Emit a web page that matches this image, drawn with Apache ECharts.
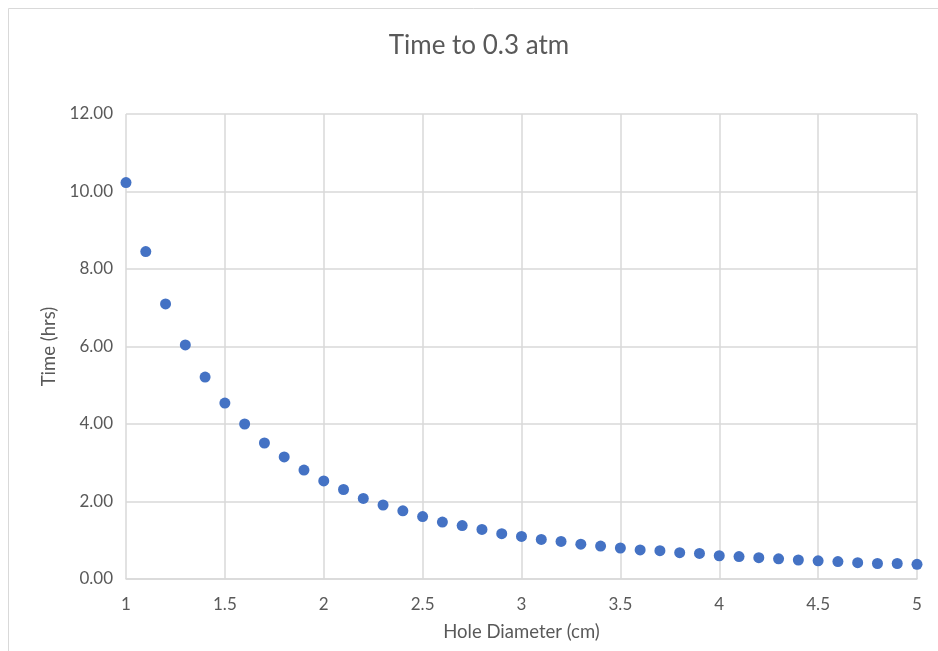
<!DOCTYPE html>
<html>
<head>
<meta charset="utf-8">
<script src="https://cdn.jsdelivr.net/npm/echarts@6/dist/echarts.min.js"></script>
<style>
  html, body { margin: 0; padding: 0; background: #fff; }
  #chart { width: 938px; height: 651px; }
</style>
</head>
<body>
<div id="chart"></div>
<script>
// hole diameter (cm)
const diameters = [
  1.0, 1.1, 1.2, 1.3, 1.4, 1.5, 1.6, 1.7, 1.8, 1.9,
  2.0, 2.1, 2.2, 2.3, 2.4, 2.5, 2.6, 2.7, 2.8, 2.9,
  3.0, 3.1, 3.2, 3.3, 3.4, 3.5, 3.6, 3.7, 3.8, 3.9,
  4.0, 4.1, 4.2, 4.3, 4.4, 4.5, 4.6, 4.7, 4.8, 4.9, 5.0
]
// time to 0.3 atm (hrs)
const hours = [
  10.23, 8.45, 7.10, 6.04, 5.21, 4.54, 4.00, 3.51, 3.15, 2.81,
  2.53, 2.31, 2.08, 1.91, 1.76, 1.61, 1.47, 1.38, 1.28, 1.17,
  1.10, 1.02, 0.97, 0.90, 0.85, 0.80, 0.75, 0.73, 0.68, 0.66,
  0.60, 0.58, 0.55, 0.52, 0.49, 0.47, 0.45, 0.42, 0.40, 0.40, 0.38
]
const xTicks = [1, 1.5, 2, 2.5, 3, 3.5, 4, 4.5, 5]
const yTicks = [0, 2, 4, 6, 8, 10, 12]

const font = 'Lato, "Open Sans", sans-serif'
const textColor = '#595959'
const gridColor = '#d9d9d9'

const chart = echarts.init(document.getElementById('chart'))

chart.setOption({
  backgroundColor: '#fff',
  animation: false,
  graphic: [{
    type: 'rect',
    shape: { x: 8.5, y: 8.5, width: 960, height: 700 },
    style: { fill: 'none', stroke: gridColor, lineWidth: 1 },
    silent: true,
  }],
  title: {
    text: 'Time to 0.3 atm',
    left: 474,
    top: 28,
    textAlign: 'center',
    textStyle: { color: textColor, fontSize: 26, fontWeight: 'normal', fontFamily: font },
  },
  grid: { left: 126, right: 21, top: 114, bottom: 72, containLabel: false },
  xAxis: {
    type: 'value',
    min: xTicks[0],
    max: xTicks[xTicks.length - 1],
    interval: 0.5,
    name: 'Hole Diameter (cm)',
    nameLocation: 'middle',
    nameGap: 44,
    nameTextStyle: { color: textColor, fontSize: 18.5, fontFamily: font },
    axisLine: { show: true, lineStyle: { color: gridColor, width: 1.5 } },
    axisTick: { show: false },
    axisLabel: {
      color: textColor, fontSize: 17, fontFamily: font, margin: 17,
      formatter: v => String(v),
    },
    splitLine: { show: true, lineStyle: { color: gridColor, width: 1.5 } },
  },
  yAxis: {
    type: 'value',
    min: yTicks[0],
    max: yTicks[yTicks.length - 1],
    interval: 2,
    name: 'Time (hrs)',
    nameLocation: 'middle',
    nameGap: 64,
    nameTextStyle: { color: textColor, fontSize: 18.5, fontFamily: font },
    axisLine: { show: false },
    axisTick: { show: false },
    axisLabel: {
      color: textColor, fontSize: 17, fontFamily: font, margin: 13,
      formatter: v => v.toFixed(2),
    },
    splitLine: { show: true, lineStyle: { color: gridColor, width: 1.5 } },
  },
  series: [{
    type: 'scatter',
    data: diameters.map((d, i) => [d, hours[i]]),
    symbol: 'circle',
    symbolSize: 11,
    itemStyle: { color: '#4472c4', opacity: 1 },
    clip: false,
  }],
})
</script>
</body>
</html>
